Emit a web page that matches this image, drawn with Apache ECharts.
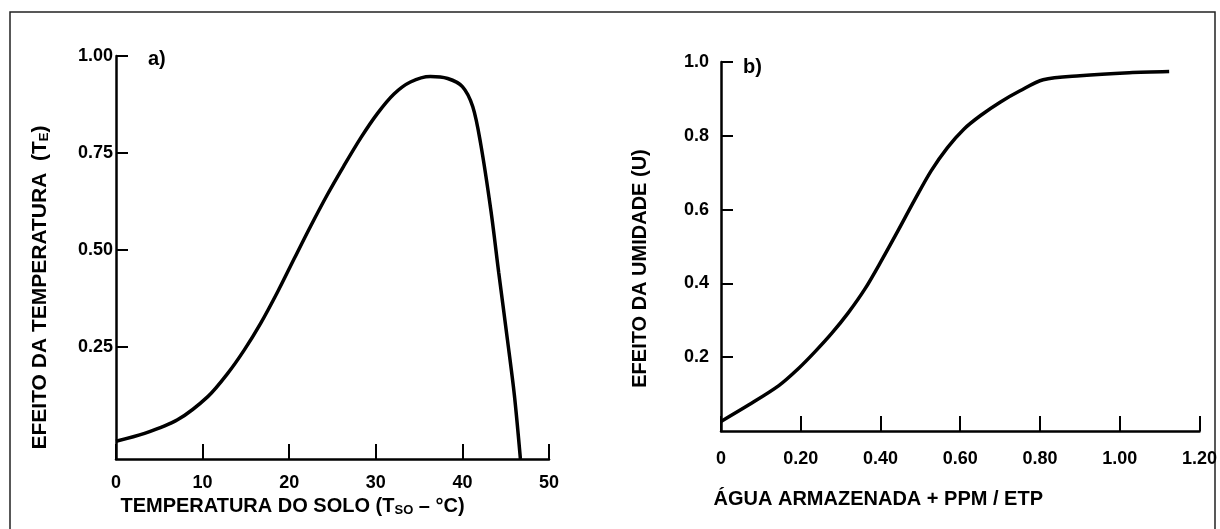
<!DOCTYPE html>
<html>
<head>
<meta charset="utf-8">
<script src="https://cdn.jsdelivr.net/npm/echarts@6/dist/echarts.min.js"></script>
<style>
html,body{margin:0;padding:0;background:#fff;}
#chart{width:1220px;height:529px;}
</style>
</head>
<body>
<div id="chart"></div>
<script>
// Panel a) soil temperature effect
const tempX = [0, 3.3, 7.1, 10.6, 12.9, 14.8, 16.7, 18.7, 20.6, 22.5, 24.4, 26.3, 28.3, 30.2, 32.1, 34, 36.3, 38.3, 40, 41.2, 42.1, 43.3, 44.2, 45.2, 46, 46.7];
const tempY = [0.006, 0.026, 0.061, 0.121, 0.181, 0.241, 0.31, 0.393, 0.478, 0.562, 0.642, 0.716, 0.79, 0.852, 0.902, 0.933, 0.947, 0.942, 0.921, 0.869, 0.775, 0.6, 0.44, 0.268, 0.125, -0.04];
const tempYTicks = [0.25, 0.5, 0.75, 1.0];
const tempXTicks = [0, 10, 20, 30, 40, 50];

// Panel b) moisture effect
const aguaX = [0, 0.07, 0.145, 0.195, 0.236, 0.278, 0.319, 0.361, 0.402, 0.444, 0.485, 0.527, 0.568, 0.609, 0.651, 0.70, 0.75, 0.808, 0.90, 1.024, 1.124];
const aguaY = [0.026, 0.071, 0.123, 0.17, 0.215, 0.265, 0.32, 0.385, 0.461, 0.543, 0.625, 0.705, 0.768, 0.818, 0.855, 0.891, 0.922, 0.952, 0.963, 0.971, 0.974];
const aguaYTicks = [0.2, 0.4, 0.6, 0.8, 1.0];
const aguaXTicks = [0, 0.2, 0.4, 0.6, 0.8, 1.0, 1.2];

const FONT = '"Liberation Sans", Arial, sans-serif';
const lbl = {color: '#000', fontFamily: FONT, fontWeight: 'bold', fontSize: 18};
const axLine = {show: true, onZero: false, lineStyle: {color: '#000', width: 2.5}};
const tick = (len) => ({show: true, inside: true, length: len, lineStyle: {color: '#000', width: 2}});
const subRich = {s: {fontSize: 13, fontFamily: FONT, fontWeight: 'bold', color: '#000', verticalAlign: 'bottom', padding: [7, 0, 0, 0]}};

const chart = echarts.init(document.getElementById('chart'), null, {renderer: 'canvas'});
chart.setOption({
  backgroundColor: '#fff',
  animation: false,
  title: [
    {text: 'a)', left: 148, top: 49, padding: 0, textStyle: {fontFamily: FONT, fontWeight: 'bold', fontSize: 20, color: '#000'}},
    {text: 'b)', left: 743, top: 57, padding: 0, textStyle: {fontFamily: FONT, fontWeight: 'bold', fontSize: 20, color: '#000'}}
  ],
  graphic: [
    {type: 'rect', shape: {x: 10, y: 12, width: 1205, height: 530}, style: {fill: 'none', stroke: '#222', lineWidth: 1.5}, silent: true}
  ],
  grid: [
    {left: 116, top: 56, width: 433, height: 403, containLabel: false},
    {left: 721, top: 62, width: 482, height: 369, containLabel: false}
  ],
  xAxis: [
    {
      gridIndex: 0, type: 'value', min: 0, max: 50, interval: 10,
      name: 'TEMPERATURA DO SOLO (T{s|SO} – °C)',
      nameLocation: 'middle', nameGap: 36,
      nameTextStyle: {color: '#000', fontFamily: FONT, fontWeight: 'bold', fontSize: 20, padding: [0, 80, 0, 0], rich: subRich},
      axisLine: axLine, axisTick: tick(15), splitLine: {show: false},
      axisLabel: Object.assign({}, lbl, {margin: 15, formatter: v => tempXTicks.includes(v) ? String(v) : ''})
    },
    {
      gridIndex: 1, type: 'value', min: 0, max: 1.2, interval: 0.2,
      name: 'ÁGUA ARMAZENADA + PPM / ETP',
      nameLocation: 'middle', nameGap: 58,
      nameTextStyle: {color: '#000', fontFamily: FONT, fontWeight: 'bold', fontSize: 20, padding: [0, 164, 0, 0]},
      axisLine: axLine, axisTick: tick(15), splitLine: {show: false},
      axisLabel: Object.assign({}, lbl, {margin: 19, formatter: v => v === 0 ? '0' : v.toFixed(2)})
    }
  ],
  yAxis: [
    {
      gridIndex: 0, type: 'value', min: -0.04, max: 1.0,
      name: 'EFEITO DA TEMPERATURA  (T{s|E})',
      nameLocation: 'middle', nameGap: 65,
      nameTextStyle: {color: '#000', fontFamily: FONT, fontWeight: 'bold', fontSize: 21, padding: [0, 60, 0, 0], rich: subRich},
      axisLine: axLine,
      axisTick: Object.assign(tick(12), {customValues: tempYTicks}),
      splitLine: {show: false},
      axisLabel: Object.assign({}, lbl, {margin: 3, customValues: tempYTicks, formatter: v => v.toFixed(2)})
    },
    {
      gridIndex: 1, type: 'value', min: 0, max: 1.0,
      name: 'EFEITO DA UMIDADE (U)',
      nameLocation: 'middle', nameGap: 71,
      nameTextStyle: {color: '#000', fontFamily: FONT, fontWeight: 'bold', fontSize: 20, padding: [0, 44, 0, 0]},
      axisLine: axLine,
      axisTick: Object.assign(tick(12), {customValues: aguaYTicks}),
      splitLine: {show: false},
      axisLabel: Object.assign({}, lbl, {margin: 12, customValues: aguaYTicks, formatter: v => v.toFixed(1)})
    }
  ],
  series: [
    {
      type: 'line', xAxisIndex: 0, yAxisIndex: 0,
      data: tempX.map((x, i) => [x, tempY[i]]),
      smooth: 0.3, showSymbol: false,
      lineStyle: {color: '#000', width: 3.5}
    },
    {
      type: 'line', xAxisIndex: 1, yAxisIndex: 1,
      data: aguaX.map((x, i) => [x, aguaY[i]]),
      smooth: 0.3, showSymbol: false,
      lineStyle: {color: '#000', width: 3.5}
    }
  ]
});
</script>
</body>
</html>
